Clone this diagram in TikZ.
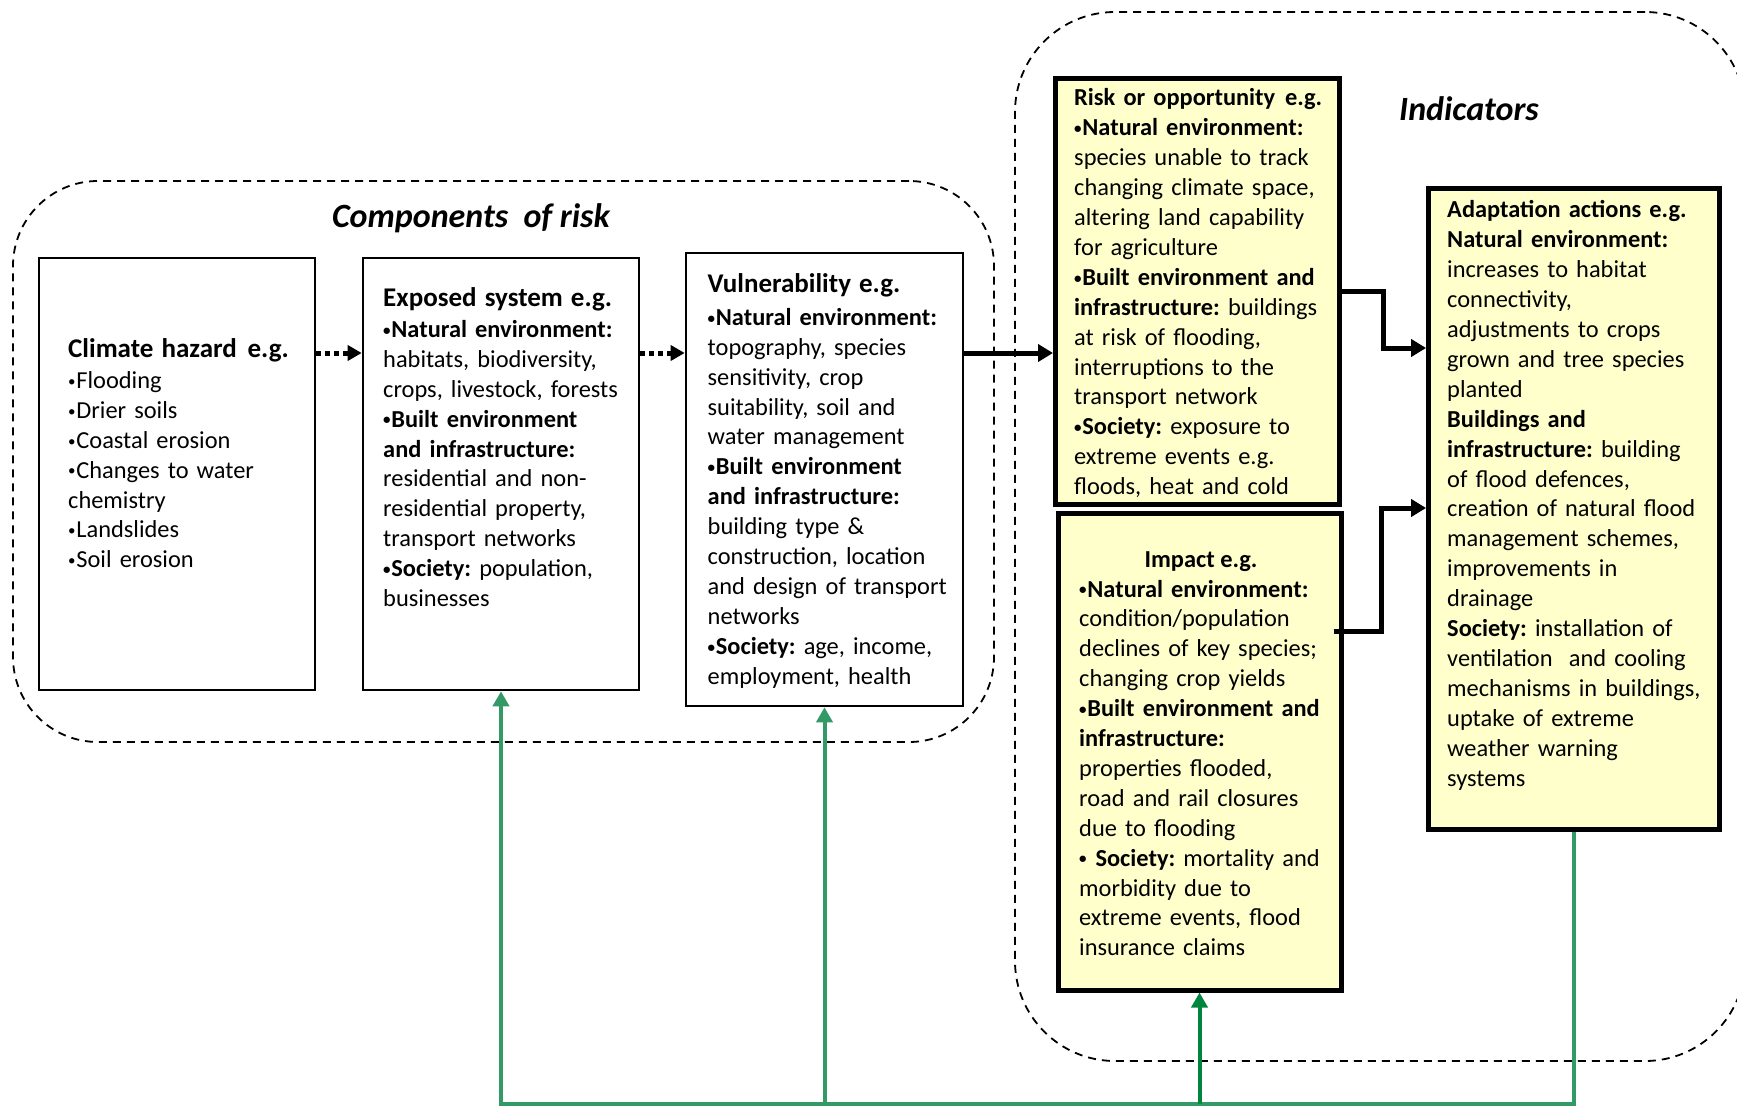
\documentclass[tikz,border=0pt]{standalone}
\usepackage{fontspec}
\setmainfont{Carlito}
\usetikzlibrary{arrows.meta}
\definecolor{boxyellow}{HTML}{FFFFCC}
\definecolor{fbgreen}{HTML}{339966}
\definecolor{fbdark}{HTML}{00853E}
\frenchspacing
\newcommand{\bodysize}{\fontsize{24.4}{29.9}\selectfont\frenchspacing}
\newcommand{\headsize}{\fontsize{27}{29.9}\selectfont\bfseries}
\newcommand{\titlesize}{\fontsize{34}{36}\selectfont\bfseries\itshape}
\newcommand{\bul}{\makebox[8.2pt][l]{\raisebox{2.2pt}{\fontsize{15}{15}\selectfont •}}}
\begin{document}
\begin{tikzpicture}[x=1pt,y=-1pt,
  plainbox/.style={draw=black, line width=2.6pt, fill=white, inner sep=0pt},
  yelbox/.style={draw=black, line width=5pt, fill=boxyellow, inner sep=0pt},
  txt/.style={anchor=base west, inner sep=0pt, text width=330pt, align=left, font=\bodysize},
  dashbox/.style={draw=black, line width=1.8pt, dash pattern=on 8pt off 6pt, inner sep=0pt},
  dotarrow/.style={line width=5pt, dash pattern=on 5pt off 4pt, -{Triangle[length=14pt,width=15pt]}},
  conn/.style={line width=5pt, -{Triangle[length=15pt,width=17pt]}},
  greenline/.style={draw=fbgreen, line width=4pt, -{Triangle[length=15pt,width=16pt]}},
  darkgreenline/.style={draw=fbdark, line width=4pt, -{Triangle[length=15pt,width=16pt]}}
]
\useasboundingbox (0,0) rectangle (1737,1107);
\clip (0,0) rectangle (1737,1107);

% dashed groups
\node[dashbox, rounded corners=85pt, minimum width=981pt, minimum height=561pt] (comp) at (503.5,461.5) {};
\node[dashbox, rounded corners=100pt, minimum width=730pt, minimum height=1049pt] (indic) at (1380,536.5) {};

\node[font=\titlesize, anchor=base, inner sep=0pt] (comptitle) at (471,228) {Components\hspace{0.45em}of risk};
\node[font=\titlesize, anchor=base, inner sep=0pt] (indictitle) at (1469,121) {Indicators};

% boxes
\node[plainbox, minimum width=276pt, minimum height=432pt] (climate) at (177,474) {};
\node[plainbox, minimum width=276pt, minimum height=432pt] (exposed) at (501,474) {};
\node[plainbox, minimum width=277pt, minimum height=453pt] (vuln) at (824.5,479.5) {};
\node[yelbox, minimum width=283.5pt, minimum height=425pt] (risk) at (1197.25,291.5) {};
\node[yelbox, minimum width=283pt, minimum height=477pt] (impact) at (1199.5,751.5) {};
\node[yelbox, minimum width=290.4pt, minimum height=640pt] (adapt) at (1573.8,509) {};

% texts
\node[txt] (climatetxt) at (68,357) {{\headsize Climate hazard\hspace{0.4em}e.g.}\\[1.5pt]
\bul Flooding\\
\bul Drier soils\\
\bul Coastal erosion\\
\bul Changes to water\\
chemistry\\
\bul Landslides\\
\bul Soil erosion};

\node[txt] (exposedtxt) at (383,306) {{\headsize Exposed system e.g.}\\[1.5pt]
\textbf{\bul Natural environment:}\\
habitats, biodiversity,\\
crops, livestock, forests\\
\textbf{\bul Built environment}\\
\textbf{and infrastructure:}\\
residential and non-\\
residential property,\\
transport networks\\
\textbf{\bul Society:} population,\\
businesses};

\node[txt] (vulntxt) at (707.5,293) {{\headsize Vulnerability e.g.}\\[2.5pt]
\textbf{\bul Natural environment:}\\
topography, species\\
sensitivity, crop\\
suitability, soil and\\
water management\\
\textbf{\bul Built environment}\\
\textbf{and infrastructure:}\\
building type \&\\
construction, location\\
and design of transport\\
networks\\
\textbf{\bul Society:} age, income,\\
employment, health};

\node[txt] (risktxt) at (1074,106) {\textbf{Risk or opportunity\hspace{0.4em}e.g.}\\
\textbf{\bul Natural environment:}\\
species unable to track\\
changing climate space,\\
altering land capability\\
for agriculture\\
\textbf{\bul Built environment and}\\
\textbf{infrastructure:} buildings\\
at risk of flooding,\\
interruptions to the\\
transport network\\
\textbf{\bul Society:} exposure to\\
extreme events e.g.\\
floods, heat and cold};

\node[font=\bodysize\bfseries, anchor=base, inner sep=0pt] (impacthead) at (1201,567) {Impact e.g.};
\node[txt] (impacttxt) at (1079,597) {\textbf{\bul Natural environment:}\\
condition/population\\
declines of key species;\\
changing crop yields\\
\textbf{\bul Built environment and}\\
\textbf{infrastructure:}\\
properties flooded,\\
road and rail closures\\
due to flooding\\
\textbf{\bul\ Society:} mortality and\\
morbidity due to\\
extreme events, flood\\
insurance claims};

\node[txt] (adapttxt) at (1447,218) {\textbf{Adaptation actions e.g.}\\
\textbf{Natural environment:}\\
increases to habitat\\
connectivity,\\
adjustments to crops\\
grown and tree species\\
planted\\
\textbf{Buildings and}\\
\textbf{infrastructure:} building\\
of flood defences,\\
creation of natural flood\\
management schemes,\\
improvements in\\
drainage\\
\textbf{Society:} installation of\\
ventilation\ \ and cooling\\
mechanisms in buildings,\\
uptake of extreme\\
weather warning\\
systems};

% connectors
\draw[dotarrow] (climate.east |- 0,353) -- (exposed.west |- 0,353);
\draw[dotarrow] (exposed.east |- 0,353) -- (vuln.west |- 0,353);
\draw[conn] (vuln.east |- 0,353) -- (risk.west |- 0,353);
\draw[conn] (risk.east |- 0,292) -- ++(42,0) |- (adapt.west |- 0,348);
\draw[conn] ([xshift=-10pt]impact.east |- 0,631) -- ++(48,0) |- (adapt.west |- 0,508);

% green feedback lines
\coordinate (gadapt) at (adapt.south |- 0,1104);
\coordinate (gexposed) at (exposed.south |- 0,1104);
\coordinate (gvuln) at (vuln.south |- 0,1104);
\coordinate (gimpact) at (impact.south |- 0,1104);
\draw[greenline] (adapt.south) -- (gadapt) -- (gexposed) -- (exposed.south);
\draw[greenline] (gvuln) -- (vuln.south);
\draw[darkgreenline] (gimpact) -- (impact.south);
\end{tikzpicture}
\end{document}
